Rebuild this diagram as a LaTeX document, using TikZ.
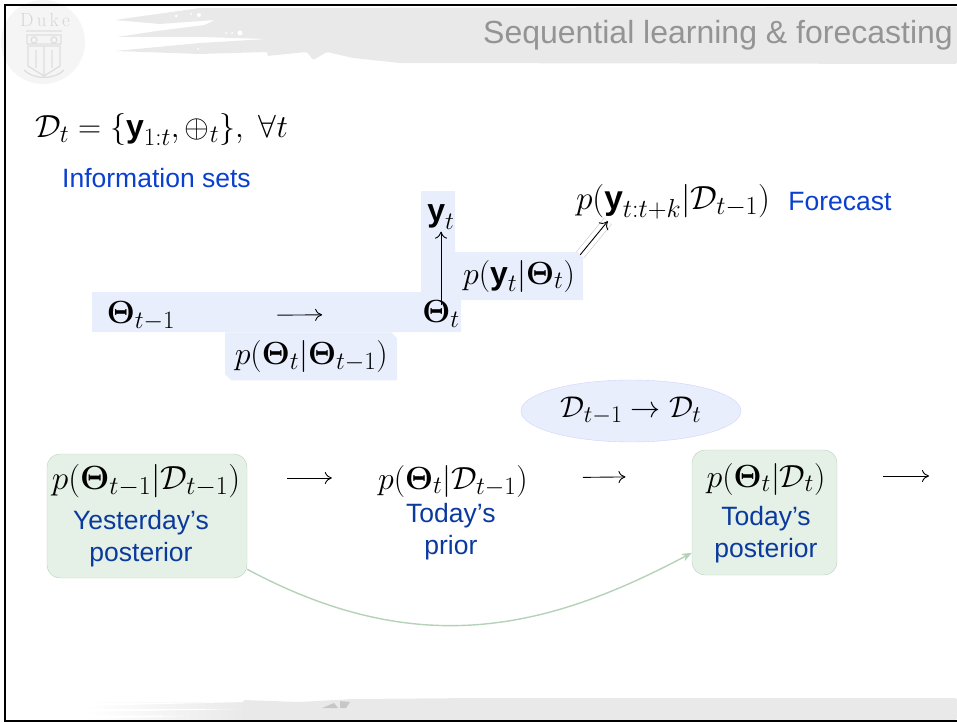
\documentclass[tikz,border=0pt]{standalone}
\usepackage{fix-cm}
\usepackage{amsmath}
\usepackage[no-math]{fontspec}
\setsansfont{Liberation Sans}
\usetikzlibrary{positioning, arrows.meta, fit, backgrounds, calc, shapes.geometric, shapes.misc}
\DeclareMathSizes{30}{30}{24}{18}
\DeclareMathSizes{32}{32}{25}{20}
\DeclareMathSizes{33.5}{33.5}{26}{20}
\definecolor{hlblue}{HTML}{E8EEFC}
\definecolor{infoblue}{HTML}{0A3FD0}
\definecolor{deepblue}{HTML}{0B3A9E}
\definecolor{boxgreen}{HTML}{E5F1E6}
\definecolor{edgegreen}{HTML}{B5D2B8}
\definecolor{brushgray}{HTML}{E9E9E9}
\newcommand{\bfy}{\textsf{\textbf{y}}}
\newcommand{\bfT}{\boldsymbol{\Theta}}
\newcommand{\Dc}{\mathcal{D}}

\begin{document}
\begin{tikzpicture}[
  x=1pt, y=-1pt,
  font=\fontsize{32}{36}\selectfont,
  mth/.style   ={inner sep=0pt, text=black},
  wide/.style  ={mth, font=\fontsize{33.5}{38}\selectfont},
  lbl/.style   ={inner sep=0pt, font=\fontsize{26.5}{32}\selectfont\sffamily, text=infoblue},
  deep/.style  ={lbl, text=deepblue, align=center},
  hl/.style    ={chamfered rectangle, chamfered rectangle xsep=3pt, chamfered rectangle ysep=3pt, chamfered rectangle corners={#1}, fill=hlblue, inner sep=0pt},
  belief/.style={rounded corners=13pt, draw=edgegreen, fill=boxgreen, inner sep=0pt},
  flow/.style  ={-{Computer Modern Rightarrow[length=7pt, width=12pt]}, line width=0.9pt},
  halo/.style  ={draw=black!25, line width=0.5pt, double=white, double distance=9pt},
  carry/.style ={-{Stealth[length=10pt, width=8pt, inset=3pt]}, line width=1.4pt, draw=edgegreen},
]
\useasboundingbox (0,0) rectangle (957,722);

% ---------- slide background ----------
\fill[brushgray, rounded corners=1.5pt] (115,20) -- (150,15) -- (200,8) -- (957,7) -- (957,64) -- (400,63) -- (353,58) -- (327,52) -- (313,60) -- (307,52) -- (267,56) -- (268,52) -- (200,54) -- (115,51) -- (200,43) -- (267,39) -- (200,37) -- (117,37) -- (157,31) -- (205,25) -- (215,20) -- (160,24) -- cycle;
\fill[white] (176,16) circle[radius=1.5] (191,14) circle[radius=1] (199,15) circle[radius=2] (226,33) circle[radius=1] (232,33) circle[radius=1] (240,33) circle[radius=2.5] (198,49) circle[radius=1];
\shade[left color=white, right color=brushgray] (85,702) rectangle (245,720);
\fill[brushgray, rounded corners=2pt] (243,700) -- (300,702) -- (352,699) -- (480,698) -- (957,698) -- (957,720) -- (243,720) -- cycle;
\fill[white] (85,703) -- (243,702) -- (85,706) -- cycle (85,709) -- (243,709) -- (85,712) -- cycle (85,715) -- (190,716) -- (85,719) -- cycle;
\fill[black!22] (322,708) -- (334,703) -- (338,708) -- cycle (340,701) -- (350,702) -- (346,708) -- (340,708) -- cycle;
\fill[black!4] (43,42) circle[radius=42];
\node[inner sep=0pt, text=black!16, font=\fontsize{19}{19}\selectfont] (seal) at (45,20) {D\,u\,k\,e};
\draw[black!13, line width=1.3pt] (26,31) -- (62,31) (27,35) rectangle (61,44) (34,40) circle[radius=3] (54,40) circle[radius=3]
  (28,46) -- (28,66) -- (44,76) -- (60,66) -- (60,46) -- cycle (36,50) -- (36,68) (52,50) -- (52,68) (44,46) -- (44,76)
  (24,70) .. controls (34,80) and (54,80) .. (64,70);
\draw[black, line width=2.4pt] (957,5) -- (5,5) -- (5,721) -- (957,721);
\node[inner sep=0pt, anchor=base east, text=black!42, font=\fontsize{32}{36}\selectfont\sffamily] (title) at (953,44) {Sequential learning \& forecasting};

% ---------- information sets ----------
\node[mth, anchor=base west] (infoeq) at (35,138) {$\Dc_t=\{\bfy_{1:t},\oplus_t\},\ \forall t$};
\node[lbl, anchor=base west] (infolbl) at (62,187) {Information sets};

% ---------- state evolution ----------
\node[hl={north east, south west}, minimum width=369pt, minimum height=40pt] (rowband) at (276.5,312) {};
\node[hl={north east, south west}, minimum width=34pt, minimum height=101pt] (yband) at (438,241.5) {};
\node[mth] (thetaprev) at (141,316) {$\bfT_{t-1}$};
\node[mth] (thetacur)  at (441,314) {$\bfT_t$};
\node[mth] (ynode)     at (441,217) {$\bfy_t$};
\node[hl={north east, south west}, minimum width=172pt, minimum height=48pt, below=0pt of rowband.south west, anchor=north west, xshift=133pt] (evol) {$p(\bfT_t|\bfT_{t-1})$};
\node[hl={north east, south west}, minimum width=128pt, minimum height=48pt] (lik) at (519,276) {$p(\bfy_t|\bfT_t)$};
\node[wide] (fcast) at (673,202) {$p(\bfy_{t:t+k}|\Dc_{t-1})$};
\node[lbl, right=18pt of fcast] (fclbl) {Forecast};

\draw[flow, shorten <=102pt, shorten >=100pt] (thetaprev.east) -- (thetacur.west);
\draw[flow, shorten <=-5pt, shorten >=2pt] (thetacur.north) -- (ynode.south);
\draw[halo, shorten >=2pt] (lik.north east) -- ([xshift=-64pt]fcast.south);
\draw[flow, shorten >=2pt] (lik.north east) -- ([xshift=-64pt]fcast.south);

% ---------- update ----------
\node[ellipse, draw=blue!18, fill=hlblue, inner sep=0pt, minimum width=220pt, minimum height=62pt, font=\fontsize{30}{34}\selectfont] (update) at (631,411) {$\Dc_{t-1}\rightarrow\Dc_t$};

\node[belief, minimum width=200pt, minimum height=124pt] (yest) at (147,516) {};
\node[wide] (yestm)  at (146,481) {$p(\bfT_{t-1}|\Dc_{t-1})$};
\node[deep, below=12pt of yestm, xshift=-5pt] (yesttxt) {Yesterday's\\posterior};
\node[mth, right=137.5pt of yestm] (priorm) {$p(\bfT_t|\Dc_{t-1})$};
\node[deep, below=6pt of priorm, xshift=-2pt] (priortxt) {Today's\\prior};
\node[belief, minimum width=145pt, minimum height=125pt] (todaypost) at (764.5,512.5) {};
\node[mth] (postm) at (766,479) {$p(\bfT_t|\Dc_t)$};
\node[deep, below=11pt of postm] (posttxt) {Today's\\posterior};
\coordinate (nextday) at (929,476);

\draw[flow, shorten <=47pt, shorten >=46pt] ([yshift=3pt]yestm.east) -- ([yshift=3pt]priorm.west);
\draw[flow, shorten <=55pt, shorten >=81pt] ([yshift=3pt]priorm.east) -- ([yshift=3pt]postm.west);
\draw[flow] ($(todaypost.east |- nextday)+(46,0)$) -- (nextday);
\draw[carry] (yest.-28) .. controls (420,662) and (550,628) .. (todaypost.209);

\end{tikzpicture}
\end{document}
